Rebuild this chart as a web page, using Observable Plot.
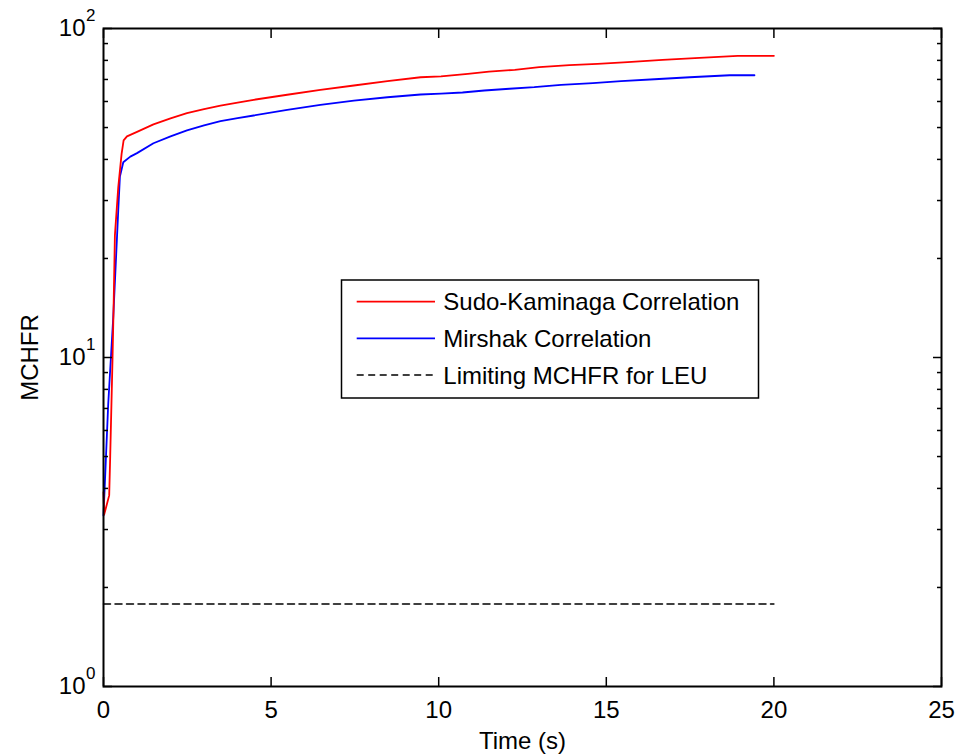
<!DOCTYPE html>
<html><head><meta charset="utf-8">
<script src="https://cdn.jsdelivr.net/npm/d3@7"></script>
<script src="https://cdn.jsdelivr.net/npm/@observablehq/plot@0.6"></script>
<style>
html,body{margin:0;padding:0;background:#fff;}
#chart{width:957px;height:754px;}
</style></head><body><div id="chart"></div>
<script>
const sudoTime = [0, 0.02, 0.17, 0.20, 0.27, 0.30, 0.34, 0.44, 0.54, 0.60, 0.70, 1.0, 1.49, 2.0, 2.49, 3.0, 3.49, 4.0, 4.48, 5.48, 6.47, 7.47, 8.47, 9.46, 10.07, 10.87, 11.5, 12.27, 13.0, 13.9, 14.74, 15.64, 16.68, 17.78, 18.92, 20.0];
const sudoMCHFR = [3.90, 3.33, 3.81, 5.0, 10.0, 14.0, 23.5, 32.9, 41.6, 45.7, 47.0, 48.5, 51.1, 53.3, 55.3, 56.9, 58.3, 59.5, 60.7, 62.9, 65.1, 67.1, 69.2, 71.1, 71.5, 72.8, 74.0, 74.9, 76.3, 77.4, 78.1, 79.0, 80.3, 81.4, 82.6, 82.6];
const mirshakTime = [0, 0.14, 0.29, 0.38, 0.44, 0.49, 0.59, 0.8, 1.0, 1.49, 2.0, 2.49, 3.0, 3.49, 4.0, 4.48, 5.48, 6.47, 7.47, 8.47, 9.46, 10.07, 10.71, 11.36, 12.11, 12.85, 13.65, 14.6, 15.44, 16.44, 17.49, 18.68, 19.42];
const mirshakMCHFR = [3.31, 7.2, 13.2, 20.7, 28.0, 35.5, 39.2, 40.8, 41.8, 44.8, 47.0, 49.0, 50.8, 52.3, 53.4, 54.4, 56.6, 58.6, 60.4, 61.8, 63.0, 63.4, 63.9, 64.8, 65.6, 66.3, 67.4, 68.2, 69.2, 70.1, 71.1, 72.1, 72.1];
const limitTime = [0, 20];
const limitMCHFR = [1.78, 1.78];
const xTicks = [0, 5, 10, 15, 20, 25];
const yMajorTicks = [1, 10, 100];
const yMinorTicks = [2, 3, 4, 5, 6, 7, 8, 9, 20, 30, 40, 50, 60, 70, 80, 90];
const seriesNames = ["Sudo-Kaminaga Correlation", "Mirshak Correlation", "Limiting MCHFR for LEU"];
const seriesColors = ["#ff0000", "#0000ff", "#000000"];
const xLabel = "Time (s)";
const yLabel = "MCHFR";

const sudo = sudoTime.map((t, i) => ({t, v: sudoMCHFR[i]}));
const mirshak = mirshakTime.map((t, i) => ({t, v: mirshakMCHFR[i]}));
const limit = limitTime.map((t, i) => ({t, v: limitMCHFR[i]}));

const font = "'Liberation Sans', Arial, Helvetica, sans-serif";
const FS = 24;
const blank = () => "";

const plot = Plot.plot({
  width: 957, height: 754,
  marginTop: 28, marginRight: 16, marginBottom: 68, marginLeft: 103,
  style: {fontFamily: font, background: "white", color: "black", overflow: "visible"},
  x: {domain: [0, 25]},
  y: {type: "log", domain: [1, 100]},
  marks: [
    Plot.line(limit, {x: "t", y: "v", stroke: seriesColors[2], strokeWidth: 1.5, strokeDasharray: "7,4.5"}),
    Plot.line(mirshak, {x: "t", y: "v", stroke: seriesColors[1], strokeWidth: 1.8}),
    Plot.line(sudo, {x: "t", y: "v", stroke: seriesColors[0], strokeWidth: 1.8}),
    Plot.frame({stroke: "black", strokeWidth: 2}),
    // x tick labels
    Plot.axisX({anchor: "bottom", ticks: xTicks, tickSize: 0, tickPadding: 14, fontSize: FS, label: null}),
    // inward x ticks
    Plot.axisX({anchor: "bottom", ticks: xTicks, tickSize: 9, dy: -9, tickFormat: blank, label: null, strokeWidth: 1.5}),
    Plot.axisX({anchor: "top", ticks: xTicks, tickSize: 9, dy: 9, tickFormat: blank, label: null, strokeWidth: 1.5}),
    // y tick labels 10^n
    Plot.axisY({anchor: "left", ticks: yMajorTicks, tickSize: 0, tickPadding: 18, tickFormat: () => "10", fontSize: FS, label: null}),
    Plot.axisY({anchor: "left", ticks: yMajorTicks, tickSize: 0, tickPadding: 8, tickFormat: d => String(Math.round(Math.log10(d))), fontSize: 17, dy: -13, label: null}),
    // inward y ticks
    Plot.axisY({anchor: "left", ticks: yMajorTicks, tickSize: 9, dx: 9, tickFormat: blank, label: null, strokeWidth: 1.5}),
    Plot.axisY({anchor: "right", ticks: yMajorTicks, tickSize: 9, dx: -9, tickFormat: blank, label: null, strokeWidth: 1.5}),
    Plot.axisY({anchor: "left", ticks: yMinorTicks, tickSize: 5, dx: 5, tickFormat: blank, label: null, strokeWidth: 1.5}),
    Plot.axisY({anchor: "right", ticks: yMinorTicks, tickSize: 5, dx: -5, tickFormat: blank, label: null, strokeWidth: 1.5}),
    // axis titles
    Plot.text([xLabel], {frameAnchor: "bottom", dy: 55, fontSize: FS, textAnchor: "middle", lineAnchor: "middle"}),
    Plot.text([yLabel], {frameAnchor: "left", dx: -73, rotate: -90, fontSize: FS, textAnchor: "middle", lineAnchor: "middle"})
  ]
});

document.getElementById("chart").appendChild(plot);

// legend inside the plot area
const svg = d3.select(plot);
const lg = svg.append("g").attr("font-family", font).attr("font-size", 24).attr("text-anchor", "start");
lg.append("rect").attr("x", 341.5).attr("y", 280).attr("width", 417).attr("height", 118)
  .attr("fill", "white").attr("stroke", "black").attr("stroke-width", 1.5);
seriesNames.forEach((name, i) => {
  const cy = 301.7 + i * 36.7;
  lg.append("line").attr("x1", 356.7).attr("x2", 435).attr("y1", cy).attr("y2", cy)
    .attr("stroke", seriesColors[i]).attr("stroke-width", i === 2 ? 1.5 : 1.8)
    .attr("stroke-dasharray", i === 2 ? "7,4.5" : null);
  lg.append("text").attr("x", 443.3).attr("y", cy).attr("dy", "0.35em").attr("fill", "black")
    .attr("text-anchor", "start").text(name);
});
</script>
</body></html>
